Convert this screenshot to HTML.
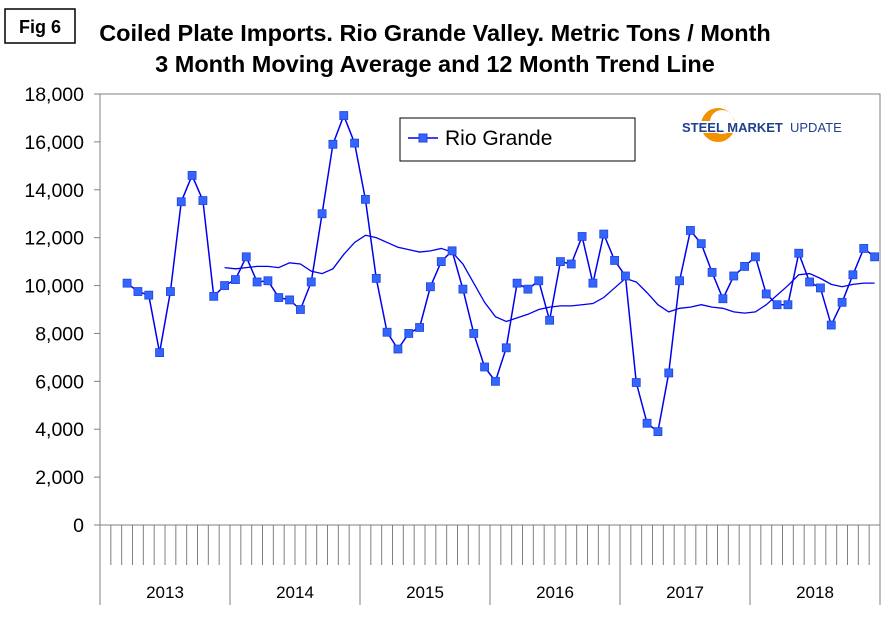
<!DOCTYPE html>
<html><head><meta charset="utf-8"><style>
body{margin:0;background:#fff;}
svg{display:block;font-family:"Liberation Sans",Arial,sans-serif;}
</style></head><body>
<svg width="892" height="622" id="chart">
<rect x="0" y="0" width="892" height="622" fill="#fff"/>
<rect x="5" y="9" width="70" height="34" fill="#fff" stroke="#000" stroke-width="1.5"/>
<text x="40" y="33" text-anchor="middle" font-size="18" font-weight="bold">Fig 6</text>
<text x="435" y="41" text-anchor="middle" font-size="23.5" font-weight="bold">Coiled Plate Imports. Rio Grande Valley. Metric Tons / Month</text>
<text x="435" y="72" text-anchor="middle" font-size="23.5" font-weight="bold">3 Month Moving Average and 12 Month Trend Line</text>
<rect x="100" y="94" width="780" height="431" fill="none" stroke="#808080" stroke-width="1"/>
<g id="yticks"></g>
<g id="xaxis"></g>
<g id="series"></g>
<g>
<rect x="400" y="118" width="235" height="43" fill="#fff" stroke="#000" stroke-width="1"/>
<line x1="408" y1="138" x2="438" y2="138" stroke="#0000ee" stroke-width="1.5"/>
<rect x="419" y="134" width="8" height="8" fill="#3366ff" stroke="#2244dd"/>
<text x="445" y="145" font-size="21">Rio Grande</text>
</g>
<g>
<circle cx="718" cy="125" r="17" fill="#f39200"/>
<circle cx="722" cy="122" r="12" fill="#fff"/>
<rect x="680" y="121" width="170" height="12" fill="#fff"/>
<text x="682" y="132" font-size="13" font-weight="bold" fill="#1f3f8f">STEEL MARKET</text>
<text x="790" y="132" font-size="13" fill="#1f3f8f">UPDATE</text>
</g>
</svg>
<script>
const yTicks=[0,2000,4000,6000,8000,10000,12000,14000,16000,18000];
const years=["2013","2014","2015","2016","2017","2018"];
const rioGrande=[10100,9750,9600,7200,9750,13500,14600,13550,9550,10000,10250,11200,10150,10200,9500,9400,9000,10150,13000,15900,17100,15950,13600,10300,8050,7350,8000,8250,9950,11000,11450,9850,8000,6600,6000,7400,10100,9850,10200,8550,11000,10900,12050,10100,12150,11050,10400,5950,4250,3900,6350,10200,12300,11750,10550,9450,10400,10800,11200,9650,9200,9200,11350,10150,9900,8350,9300,10450,11550,11200];
const rioStart=2;
const trend=[10750,10700,10750,10800,10800,10750,10950,10900,10600,10500,10700,11300,11800,12100,12000,11800,11600,11500,11400,11450,11550,11400,10900,10100,9300,8700,8500,8650,8800,9000,9100,9150,9150,9200,9250,9500,9900,10300,10150,9700,9200,8900,9050,9100,9200,9100,9050,8900,8850,8900,9200,9600,10000,10450,10500,10300,10050,9950,10050,10100,10100];
const trendStart=11;
const NS="http://www.w3.org/2000/svg";
const X0=100,X1=880,Y0=525,Y1=94,YMAX=18000,NM=72;
const xm=i=>X0+(i+0.5)*(X1-X0)/NM;
const y=v=>Y0-(v/YMAX)*(Y0-Y1);
function mk(tag,attrs,parent){const e=document.createElementNS(NS,tag);for(const k in attrs)e.setAttribute(k,attrs[k]);parent.appendChild(e);return e;}
const yt=document.getElementById('yticks');
yTicks.forEach(v=>{
 const t=mk('text',{x:X0-16,y:y(v)+7,'text-anchor':'end','font-size':'19.5'},yt);
 t.textContent=v.toLocaleString('en-US');
 
 
 mk('line',{x1:X0-6,x2:X0,y1:y(v),y2:y(v),stroke:'#808080'},yt);
});
const xa=document.getElementById('xaxis');
for(let i=0;i<=NM;i++){
 const x=X0+i*(X1-X0)/NM;
 const yr=i%12===0;
 mk('line',{x1:x,x2:x,y1:Y0,y2:yr?605:565,stroke:'#808080','stroke-width':1},xa);
}
years.forEach((s,k)=>{
 const t=mk('text',{x:X0+(k+0.5)*(X1-X0)/6,y:598,'text-anchor':'middle','font-size':'17'},xa);
 t.textContent=s;
 
 
});
const sg=document.getElementById('series');
const tp=mk('polyline',{points:trend.map((v,i)=>xm(i+trendStart)+','+y(v)).join(' '),fill:'none',stroke:'#0000ee','stroke-width':1.3},sg);


const rp=mk('polyline',{points:rioGrande.map((v,i)=>xm(i+rioStart)+','+y(v)).join(' '),fill:'none',stroke:'#0000ee','stroke-width':1.5},sg);


rioGrande.forEach((v,i)=>{
 const r=mk('rect',{x:xm(i+rioStart)-4,y:y(v)-4,width:8,height:8,fill:'#3366ff',stroke:'#2244dd','stroke-width':0.8},sg);
 
 
});
</script>
</body></html>
